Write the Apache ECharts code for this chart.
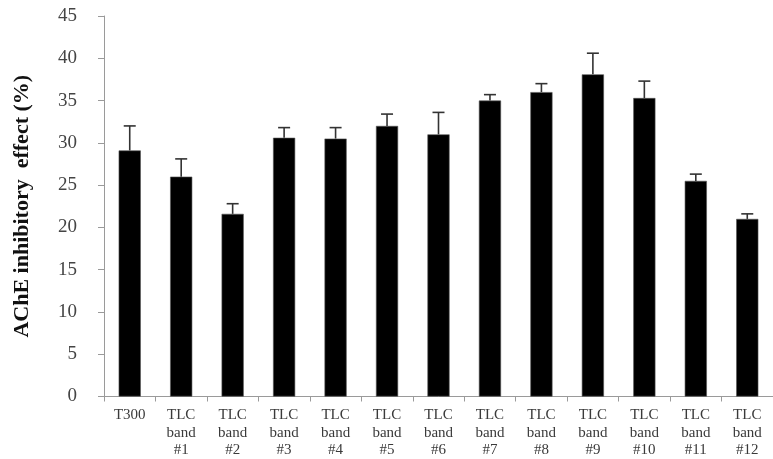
<!DOCTYPE html>
<html>
<head>
<meta charset="utf-8">
<script src="https://cdn.jsdelivr.net/npm/echarts@6/dist/echarts.min.js"></script>
<style>
  html, body { margin: 0; padding: 0; background: #fff; }
  #chart { width: 773px; height: 459px; }
</style>
</head>
<body>
<div id="chart"></div>
<script>
// Sample names along the x axis
const categories = ['T300', 'TLC\nband\n#1', 'TLC\nband\n#2', 'TLC\nband\n#3', 'TLC\nband\n#4',
  'TLC\nband\n#5', 'TLC\nband\n#6', 'TLC\nband\n#7', 'TLC\nband\n#8', 'TLC\nband\n#9',
  'TLC\nband\n#10', 'TLC\nband\n#11', 'TLC\nband\n#12'];
// Mean AChE inhibition (%) per sample
const means = [29.1, 26.0, 21.6, 30.6, 30.5, 32.0, 31.0, 35.0, 36.0, 38.1, 35.3, 25.5, 21.0];
// Standard deviation (upper error bar length)
const errors = [2.9, 2.1, 1.2, 1.2, 1.3, 1.4, 2.6, 0.7, 1.0, 2.5, 2.0, 0.8, 0.6];
// Y axis ticks
const yTicks = [0, 5, 10, 15, 20, 25, 30, 35, 40, 45];

const serif = '"Liberation Serif", "DejaVu Serif", serif';
const chart = echarts.init(document.getElementById('chart'));

const errData = means.map((m, i) => [i, m, m + errors[i]]);

chart.setOption({
  animation: false,
  grid: { left: 104, right: -2, top: 16, bottom: 62 },
  xAxis: {
    type: 'category',
    data: categories,
    axisLine: { lineStyle: { color: '#9a9a9a', width: 1 } },
    axisTick: { show: true, length: 5, lineStyle: { color: '#9a9a9a' } },
    axisLabel: {
      interval: 0, margin: 10, color: '#3a3a3a', fontFamily: serif, fontSize: 15,
      lineHeight: 17.5, verticalAlign: 'top'
    }
  },
  yAxis: {
    type: 'value',
    min: yTicks[0], max: yTicks[yTicks.length - 1], interval: 5,
    name: 'AChE inhibitory  effect (%)',
    nameLocation: 'middle',
    nameGap: 71,
    nameTextStyle: { fontFamily: serif, fontSize: 22, fontWeight: 'bold', color: '#111' },
    axisLine: { show: true, lineStyle: { color: '#9a9a9a', width: 1 } },
    axisTick: { show: true, length: 6, lineStyle: { color: '#9a9a9a' } },
    axisLabel: { margin: 27, color: '#444', fontFamily: serif, fontSize: 19 },
    splitLine: { show: false }
  },
  series: [
    {
      type: 'bar',
      data: means,
      barWidth: '43%',
      itemStyle: { color: '#000', borderColor: '#555', borderWidth: 0.6 }
    },
    {
      type: 'custom',
      data: errData,
      z: 3,
      renderItem: function (params, api) {
        const i = api.value(0);
        const base = api.coord([i, api.value(1)]);
        const top = api.coord([i, api.value(2)]);
        const half = 6;
        const style = { stroke: '#333', lineWidth: 1.6 };
        return {
          type: 'group',
          children: [
            { type: 'line', shape: { x1: base[0], y1: base[1], x2: top[0], y2: top[1] }, style: style },
            { type: 'line', shape: { x1: top[0] - half, y1: top[1], x2: top[0] + half, y2: top[1] }, style: style }
          ]
        };
      }
    }
  ]
});
</script>
</body>
</html>
